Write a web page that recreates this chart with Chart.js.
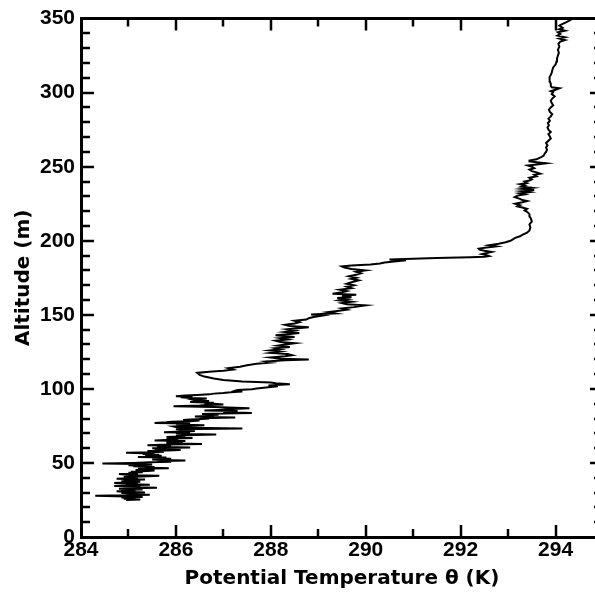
<!DOCTYPE html>
<html lang="en">
  <head>
    <meta charset="UTF-8" />
    <title>Potential temperature profile</title>
    <script src="https://cdn.jsdelivr.net/npm/chart.js@4.4.1/dist/chart.umd.min.js"></script>
    <style>
      html, body {
        margin: 0;
        padding: 0;
        background: #fff;
        overflow: hidden;
      }
      #wrap {
        width: 610px;
        height: 593px;
      }
    </style>
  </head>
  <body>
    <div id="wrap"><canvas id="profile" width="610" height="593"></canvas></div>
    <script>
      const altitude = [
        25.0, 25.4, 25.8, 26.2, 26.6, 27.0, 27.4, 27.8, 28.2, 28.5,
        28.9, 29.3, 29.7, 30.1, 30.5, 30.9, 31.3, 31.7, 32.1, 32.5,
        32.9, 33.3, 33.7, 34.1, 34.5, 34.9, 35.3, 35.7, 36.1, 36.5,
        36.9, 37.3, 37.7, 38.1, 38.5, 38.9, 39.3, 39.7, 40.1, 40.5,
        40.9, 41.3, 41.7, 42.1, 42.5, 42.9, 43.3, 43.7, 44.1, 44.5,
        44.9, 45.3, 45.7, 46.1, 46.5, 46.9, 47.3, 47.7, 48.1, 48.5,
        48.9, 49.3, 49.6, 50.0, 50.4, 50.8, 51.2, 51.6, 52.0, 52.4,
        52.8, 53.2, 53.6, 54.0, 54.4, 54.8, 55.2, 55.6, 56.0, 56.4,
        56.8, 57.2, 57.6, 58.0, 58.4, 58.8, 59.2, 59.6, 60.0, 60.4,
        60.8, 61.2, 61.6, 62.0, 62.4, 62.8, 63.2, 63.6, 64.0, 64.4,
        64.8, 65.2, 65.6, 66.0, 66.4, 66.8, 67.2, 67.6, 68.0, 68.4,
        68.8, 69.2, 69.6, 70.0, 70.4, 70.8, 71.2, 71.6, 72.0, 72.4,
        72.8, 73.3, 73.8, 74.2, 74.6, 75.0, 75.4, 75.8, 76.2, 76.6,
        77.0, 77.4, 77.8, 78.2, 78.6, 79.0, 79.4, 79.8, 80.2, 80.6,
        81.0, 81.4, 81.8, 82.2, 82.6, 83.0, 83.4, 83.8, 84.2, 84.6,
        85.0, 85.4, 85.8, 86.2, 86.6, 87.0, 87.4, 87.8, 88.3, 88.7,
        89.1, 89.5, 89.9, 90.3, 90.7, 91.1, 91.5, 91.9, 92.3, 92.7,
        93.1, 93.5, 93.9, 94.3, 94.7, 95.1, 95.5, 95.9, 96.3, 96.8,
        97.3, 97.8, 98.3, 98.8, 99.3, 99.8, 100.3, 100.8, 101.3, 101.8,
        102.3, 102.8, 103.2, 103.8, 104.3,
        105.0, 106.0, 107.0, 108.3, 109.5, 110.8, 111.5, 112.3, 113.0, 114.0, 115.0, 116.0, 117.0,
        117.8, 118.5, 119.3, 119.8, 120.4, 121.2, 122.0, 122.7, 123.5, 124.3, 125.2, 126.0, 126.8,
        127.5, 128.3, 129.2, 130.0, 130.8, 131.6, 132.5, 133.3, 134.2, 135.0, 136.2, 137.0, 137.8,
        138.5, 139.5, 140.3, 141.6, 142.5, 143.3, 144.2, 145.0, 146.0, 146.8, 147.7, 148.5, 149.5,
        150.3, 151.0, 151.8, 152.6, 153.5, 154.3, 155.2, 156.4, 157.2, 158.0, 158.8, 159.8, 160.5,
        161.3, 162.0, 162.8, 163.5, 164.3, 165.2, 166.0, 167.0, 168.0, 169.0, 170.0, 171.0, 172.0,
        173.3, 174.2, 175.0, 176.0, 177.0, 178.0, 179.0, 180.0, 181.0, 182.0, 182.7, 183.3, 184.0,
        184.6, 185.3, 186.0, 186.8, 187.3, 187.8, 188.3, 188.8, 189.2, 189.7, 190.3, 191.0, 191.8,
        192.5, 193.3, 194.0, 194.7, 195.5, 196.2, 197.0, 198.0, 199.0, 200.0, 201.0, 202.0, 203.0,
        204.0, 205.5, 207.0, 209.0, 211.0, 213.0, 215.0, 216.5, 218.0, 219.5, 220.5, 221.5, 222.5,
        223.2, 224.0, 225.0, 226.0, 226.8, 227.5, 228.3, 229.5, 230.5, 231.3, 232.0, 232.8, 233.5,
        234.2, 235.0, 235.8, 236.5, 237.4, 238.2, 239.0, 240.0, 240.7, 241.5, 242.5, 243.5, 244.5,
        245.3, 246.2, 247.0, 248.0, 249.0, 250.0, 250.8, 251.5, 252.3, 253.0, 253.6, 254.2, 255.0,
        255.8, 256.5, 257.5, 258.8, 260.0, 261.5, 263.0, 264.5, 266.0, 267.5, 269.0, 270.5, 272.0,
        273.5, 275.0, 276.5, 278.0, 279.5, 281.0, 282.5, 284.0, 285.5, 287.0, 288.5, 290.0, 291.5,
        293.0, 294.5, 296.0, 297.5, 299.0, 300.3, 301.0, 302.0, 303.0, 303.6, 304.5, 306.0, 307.5,
        309.0, 310.5, 312.0, 313.5, 315.0, 317.0, 319.0, 321.0, 323.0, 325.0, 327.0, 329.0, 331.0,
        333.0, 334.5, 335.5, 336.5, 337.4, 338.5, 339.7, 340.8, 341.8, 342.8, 343.8, 345.3, 346.5,
        347.5, 348.5, 349.8, 350.5
      ]
      const theta = [
        284.95, 285.25, 284.9, 285.15, 284.85, 285.3, 284.95, 284.3, 285.0, 285.45,
        284.95, 285.25, 284.85, 285.35, 284.9, 284.75, 285.15, 284.85, 285.3, 284.8,
        285.1, 285.6, 285.0, 285.25, 284.7, 285.0, 285.45, 284.95, 285.2, 284.7,
        285.05, 285.25, 284.85, 285.1, 284.9, 285.35, 284.75, 285.05, 285.2, 284.9,
        285.3, 285.65, 285.1, 284.95, 284.8, 285.2, 285.0, 285.3, 285.05, 285.4,
        285.55, 285.15, 285.4, 285.2, 285.85, 285.35, 285.55, 285.1, 285.3, 285.0,
        285.5, 285.2, 284.45, 285.1, 285.45, 285.9, 285.6, 286.2, 285.7, 285.5,
        285.9, 285.6, 285.8, 285.2, 285.5, 285.7, 285.35, 285.65, 285.3, 285.55,
        284.95, 285.5, 285.75, 285.4, 285.8, 286.1, 285.55, 285.8, 285.5, 286.3,
        285.75, 285.6, 285.9, 285.4, 285.85, 286.55, 286.0, 285.8, 286.15, 285.9,
        286.2, 285.55, 285.9, 286.05, 285.8, 286.35, 286.0, 285.8, 286.2, 286.0,
        286.4, 286.85, 286.2, 286.0, 286.3, 285.75, 286.15, 286.4, 286.05, 286.2,
        286.0, 287.4, 286.3, 286.0, 285.95, 286.3, 286.6, 286.15, 286.0, 286.3,
        285.55, 285.8, 285.9, 286.3, 286.5, 286.15, 286.3, 286.7, 286.5, 287.25,
        286.6, 286.4, 286.8, 286.6, 286.9, 286.55, 287.0, 287.6, 287.1, 287.0,
        287.3, 286.6, 286.9, 287.1, 287.3, 287.55, 287.1, 286.8, 285.95, 286.5,
        286.7, 287.0, 286.8, 286.6, 286.8, 286.3, 286.5, 286.7, 286.4, 286.35,
        286.55, 286.65, 286.3, 286.1, 286.35, 286.0, 286.2, 286.45, 286.7, 286.8,
        287.0, 287.15, 287.4, 287.25, 287.3, 287.6, 287.7, 287.85, 288.0, 288.15,
        287.95, 288.2, 288.4, 288.1, 288.0,
        287.4, 287.0, 286.8, 286.6, 286.5, 286.45, 286.7, 287.0, 287.2, 287.1, 287.35, 287.5, 287.7,
        288.0, 287.9, 288.3, 288.8, 288.2, 288.0, 288.3, 288.45, 288.35, 288.0, 288.2, 287.98, 288.2,
        288.1, 288.4, 288.15, 288.3, 288.5, 288.2, 288.1, 288.35, 288.2, 288.5, 288.1, 288.4, 288.6,
        288.3, 288.5, 288.35, 288.8, 288.4, 288.3, 288.5, 288.6, 288.5, 288.75, 288.8, 288.9, 289.1,
        288.85, 289.35, 289.2, 289.4, 289.6, 289.5, 289.75, 290.0, 289.6, 289.5, 289.7, 289.45, 289.6,
        289.4, 289.7, 289.5, 289.8, 289.3, 289.5, 289.6, 289.45, 289.7, 289.6, 289.75, 289.6, 289.7,
        289.85, 289.7, 289.8, 289.65, 289.8, 289.9, 289.8, 290.0, 289.7, 289.55, 289.5, 289.7, 290.1,
        290.3, 290.4, 290.6, 290.85, 290.5, 291.0, 291.5, 292.2, 292.5, 292.6, 292.55, 292.45, 292.55,
        292.65, 292.5, 292.4, 292.38, 292.55, 292.75, 292.6, 292.8, 292.95, 293.05, 293.1, 293.15, 293.25,
        293.3, 293.4, 293.45, 293.47, 293.45, 293.5, 293.48, 293.45, 293.45, 293.4, 293.35, 293.4, 293.3,
        293.2, 293.25, 293.15, 293.3, 293.4, 293.3, 293.25, 293.14, 293.2, 293.35, 293.25, 293.45, 293.3,
        293.55, 293.3, 293.5, 293.28, 293.35, 293.25, 293.4, 293.35, 293.45, 293.5, 293.45, 293.6, 293.55,
        293.68, 293.6, 293.5, 293.45, 293.55, 293.5, 293.42, 293.6, 293.8, 293.6, 293.45, 293.45, 293.6,
        293.65, 293.7, 293.75, 293.77, 293.8, 293.82, 293.8, 293.83, 293.8, 293.85, 293.9, 293.88, 293.85,
        293.9, 293.85, 293.83, 293.86, 293.84, 293.88, 293.85, 293.9, 293.93, 293.88, 293.86, 293.9, 293.95,
        293.92, 293.9, 293.93, 293.98, 293.92, 293.95, 293.9, 294.0, 294.08, 293.92, 293.9, 293.9, 293.88,
        293.87, 293.88, 293.9, 293.92, 293.93, 293.95, 294.0, 294.02, 294.03, 294.05, 294.07, 294.05, 294.08,
        294.06, 294.1, 294.2, 294.08, 294.2, 294.04, 294.1, 294.05, 294.2, 294.08, 294.15, 294.08, 294.15,
        294.22, 294.28, 294.35, 294.42
      ]

      const xMin = 284
      const xMax = 295
      const yMin = 0
      const yMax = 350
      const xTickValues = [284, 286, 288, 290, 292, 294]
      const yTickValues = [0, 50, 100, 150, 200, 250, 300, 350]

      const points = altitude.map((z, i) => ({ x: theta[i], y: z }))

      const tickFont = { family: 'Liberation Sans, Arial, sans-serif', size: 21, weight: 'bold' }
      const titleFont = { family: 'DejaVu Sans, sans-serif', size: 20, weight: 'bold' }

      // inward tick marks on all four sides (major + minor)
      const inwardTicks = {
        id: 'inwardTicks',
        afterDatasetsDraw(chart) {
          const { ctx, chartArea: a, scales } = chart
          const x = scales.x
          const y = scales.y
          ctx.save()
          ctx.strokeStyle = '#000'
          ctx.lineWidth = 2.5
          ctx.beginPath()
          for (let v = xMin + 1; v < xMax; v++) {
            const px = Math.round(x.getPixelForValue(v))
            const len = v % 2 === 0 ? 12 : 8
            ctx.moveTo(px, a.bottom)
            ctx.lineTo(px, a.bottom - len)
            ctx.moveTo(px, a.top)
            ctx.lineTo(px, a.top + len)
          }
          for (let v = yMin + 10; v < yMax; v += 10) {
            const py = Math.round(y.getPixelForValue(v))
            const len = v % 50 === 0 ? 13 : 9
            ctx.moveTo(a.left, py)
            ctx.lineTo(a.left + len, py)
            ctx.moveTo(a.right, py)
            ctx.lineTo(a.right - len, py)
          }
          ctx.stroke()
          ctx.restore()
        }
      }

      new Chart(document.getElementById('profile'), {
        type: 'scatter',
        data: {
          datasets: [
            {
              data: points,
              showLine: true,
              borderColor: '#000',
              borderWidth: 2,
              pointRadius: 0,
              tension: 0
            }
          ]
        },
        options: {
          responsive: false,
          animation: false,
          devicePixelRatio: 1,
          layout: { padding: 0 },
          plugins: { legend: { display: false }, tooltip: { enabled: false } },
          scales: {
            x: {
              type: 'linear',
              position: 'bottom',
              min: xMin,
              max: xMax,
              afterBuildTicks: s => { s.ticks = xTickValues.map(v => ({ value: v })) },
              afterFit: s => { s.height = 56 },
              grid: { display: false, drawTicks: false },
              border: { display: true, color: '#000', width: 3 },
              ticks: { color: '#000', font: tickFont, padding: 1, maxRotation: 0 },
              title: {
                display: true,
                text: 'Potential Temperature θ (K)',
                color: '#000',
                font: titleFont,
                padding: { top: 0, bottom: 2 }
              }
            },
            x2: {
              type: 'linear',
              position: 'top',
              min: xMin,
              max: xMax,
              afterFit: s => { s.height = 18 },
              grid: { display: false, drawTicks: false },
              border: { display: true, color: '#000', width: 3 },
              ticks: { display: false }
            },
            y: {
              type: 'linear',
              position: 'left',
              min: yMin,
              max: yMax,
              afterBuildTicks: s => { s.ticks = yTickValues.map(v => ({ value: v })) },
              afterFit: s => { s.width = 81 },
              grid: { display: false, drawTicks: false },
              border: { display: true, color: '#000', width: 3 },
              ticks: { color: '#000', font: tickFont, padding: 6 },
              title: {
                display: true,
                text: 'Altitude (m)',
                color: '#000',
                font: titleFont,
                padding: { top: 12, bottom: 0 }
              }
            },
            y2: {
              type: 'linear',
              position: 'right',
              min: yMin,
              max: yMax,
              afterFit: s => { s.width = 7 },
              grid: { display: false, drawTicks: false },
              border: { display: true, color: '#000', width: 3 },
              ticks: { display: false }
            }
          }
        },
        plugins: [inwardTicks]
      })
    </script>
  </body>
</html>
